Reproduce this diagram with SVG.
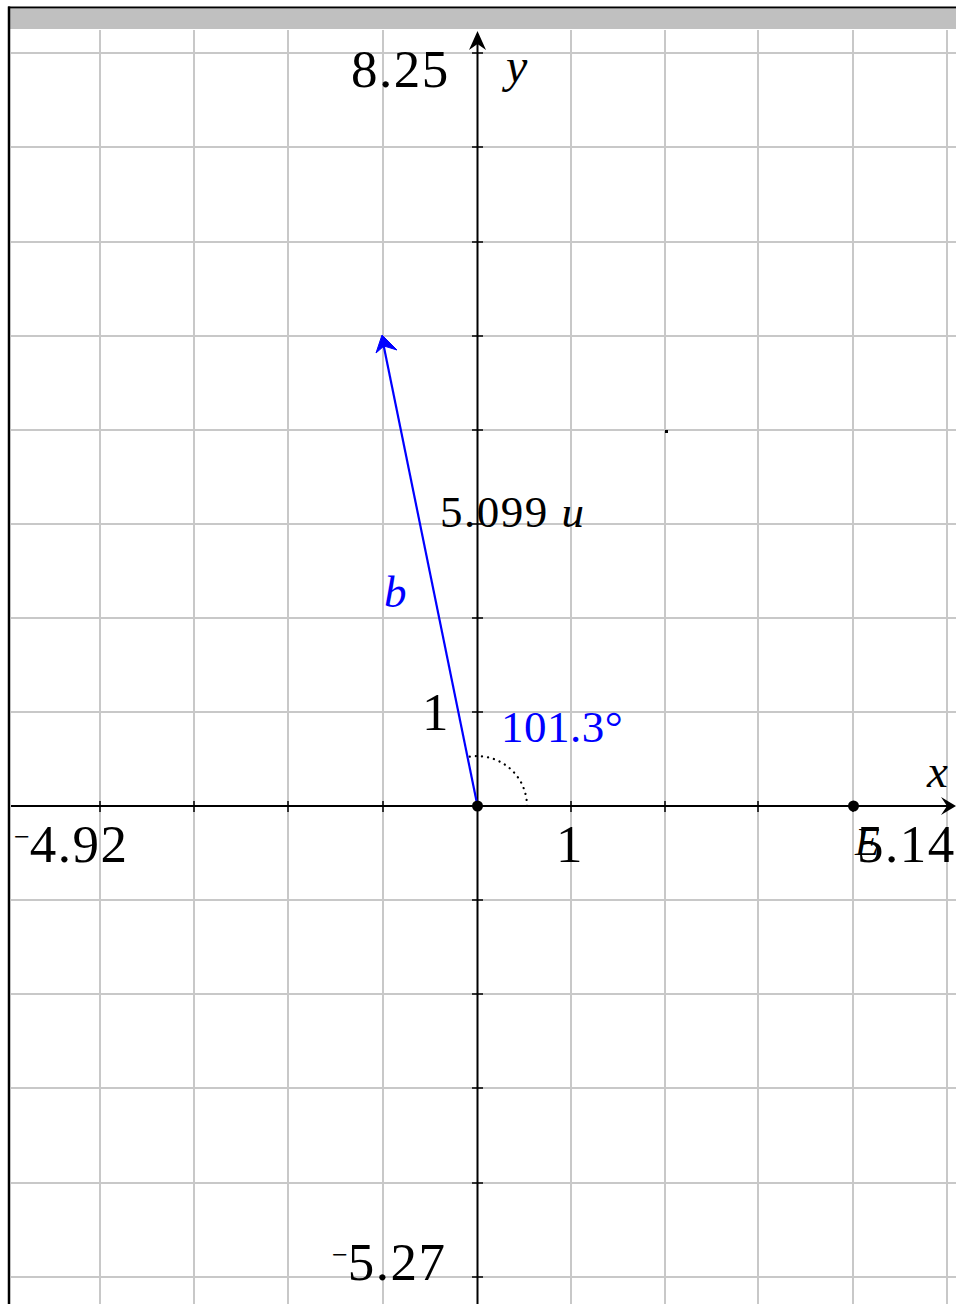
<svg xmlns="http://www.w3.org/2000/svg" width="956" height="1304" viewBox="0 0 956 1304">
<style>
.grid line{stroke:#c8c8c8;stroke-width:2}
.axis{stroke:#000;stroke-width:2;fill:none}
.tick{stroke:#000;stroke-width:1.5}
.lbl{font-family:"Liberation Serif","Times New Roman",serif;fill:#000}
.num{font-size:53px;letter-spacing:1.5px}
.neg{font-size:28px;letter-spacing:0}
.it{font-style:italic}
.blue{fill:#0000ff}
</style>
<rect x="0" y="0" width="956" height="1304" fill="#fff"/>
<g id="grid" class="grid">
<line x1="100" y1="30" x2="100" y2="1304"/>
<line x1="194" y1="30" x2="194" y2="1304"/>
<line x1="288" y1="30" x2="288" y2="1304"/>
<line x1="383" y1="30" x2="383" y2="1304"/>
<line x1="571" y1="30" x2="571" y2="1304"/>
<line x1="665" y1="30" x2="665" y2="1304"/>
<line x1="758" y1="30" x2="758" y2="1304"/>
<line x1="853" y1="30" x2="853" y2="1304"/>
<line x1="947" y1="30" x2="947" y2="1304"/>
<line x1="11" y1="53" x2="956" y2="53"/>
<line x1="11" y1="147" x2="956" y2="147"/>
<line x1="11" y1="242" x2="956" y2="242"/>
<line x1="11" y1="336" x2="956" y2="336"/>
<line x1="11" y1="430" x2="956" y2="430"/>
<line x1="11" y1="524" x2="956" y2="524"/>
<line x1="11" y1="618" x2="956" y2="618"/>
<line x1="11" y1="712" x2="956" y2="712"/>
<line x1="11" y1="900" x2="956" y2="900"/>
<line x1="11" y1="994" x2="956" y2="994"/>
<line x1="11" y1="1088" x2="956" y2="1088"/>
<line x1="11" y1="1183" x2="956" y2="1183"/>
<line x1="11" y1="1277" x2="956" y2="1277"/>
</g>
<g id="frame">
<rect x="10" y="9" width="946" height="20" fill="#c0c0c0"/>
<line x1="8" y1="7.5" x2="956" y2="7.5" stroke="#000" stroke-width="2"/>
<line x1="9" y1="6.5" x2="9" y2="1304" stroke="#000" stroke-width="2.5"/>
</g>
<g id="axes">
<line class="axis" x1="11" y1="806" x2="954" y2="806"/>
<line class="axis" x1="477.5" y1="1304" x2="477.5" y2="34"/>
<path d="M477.5,31 L469,50 L477.5,44 L486,50 Z" fill="#000"/>
<path d="M956,806 L941,797 L947,806 L941,815 Z" fill="#000"/>
<g class="tick">
<line x1="472" y1="53" x2="483" y2="53"/>
<line x1="472" y1="147" x2="483" y2="147"/>
<line x1="472" y1="242" x2="483" y2="242"/>
<line x1="472" y1="336" x2="483" y2="336"/>
<line x1="472" y1="430" x2="483" y2="430"/>
<line x1="472" y1="524" x2="483" y2="524"/>
<line x1="472" y1="618" x2="483" y2="618"/>
<line x1="472" y1="712" x2="483" y2="712"/>
<line x1="472" y1="900" x2="483" y2="900"/>
<line x1="472" y1="994" x2="483" y2="994"/>
<line x1="472" y1="1088" x2="483" y2="1088"/>
<line x1="472" y1="1183" x2="483" y2="1183"/>
<line x1="472" y1="1277" x2="483" y2="1277"/>
<line x1="100" y1="801" x2="100" y2="812"/>
<line x1="194" y1="801" x2="194" y2="812"/>
<line x1="288" y1="801" x2="288" y2="812"/>
<line x1="383" y1="801" x2="383" y2="812"/>
<line x1="571" y1="801" x2="571" y2="812"/>
<line x1="665" y1="801" x2="665" y2="812"/>
<line x1="758" y1="801" x2="758" y2="812"/>
<line x1="853" y1="801" x2="853" y2="812"/>
</g>
<rect x="665" y="430" width="3" height="3" fill="#000"/>
</g>
<g id="axis-labels" class="lbl">
<text class="num" x="351" y="87">8.25</text>
<text class="it" x="506" y="82" font-size="48">y</text>
<text class="it" x="927" y="787" font-size="47">x</text>
<text class="num" x="14" y="862"><tspan class="neg" dy="-16">−</tspan><tspan dy="16">4.92</tspan></text>
<text class="num" x="556" y="862">1</text>
<text class="num" x="422" y="730">1</text>
<text class="num" x="857" y="862">5.14</text>
<text class="num" x="332" y="1280"><tspan class="neg" dy="-16">−</tspan><tspan dy="16">5.27</tspan></text>
</g>
<g id="vector-b">
<line x1="477.5" y1="806" x2="382.5" y2="340" stroke="#0000ff" stroke-width="2.2"/>
<path d="M382,335 L376,353 L384,346 L397,350 Z" fill="#0000ff" stroke="#0000ff" stroke-width="1" stroke-linejoin="round"/>
<text class="lbl it blue" x="384" y="607" font-size="45">b</text>
<text class="lbl" x="440" y="527" font-size="45" letter-spacing="1.5">5.099 <tspan class="it">u</tspan></text>
</g>
<g id="angle">
<path d="M527,806 A50,50 0 0,0 467.5,757" fill="none" stroke="#000" stroke-width="2.2" stroke-dasharray="0.1,6" stroke-linecap="round"/>
<text class="lbl blue" x="501" y="742" font-size="45" letter-spacing="0.5">101.3°</text>
</g>
<g id="point-origin"><circle cx="477.5" cy="806" r="5.5" fill="#000"/></g>
<g id="point-E">
<circle cx="853.5" cy="806" r="5.5" fill="#000"/>
<text class="lbl it" x="855" y="855" font-size="40">E</text>
</g>
</svg>
